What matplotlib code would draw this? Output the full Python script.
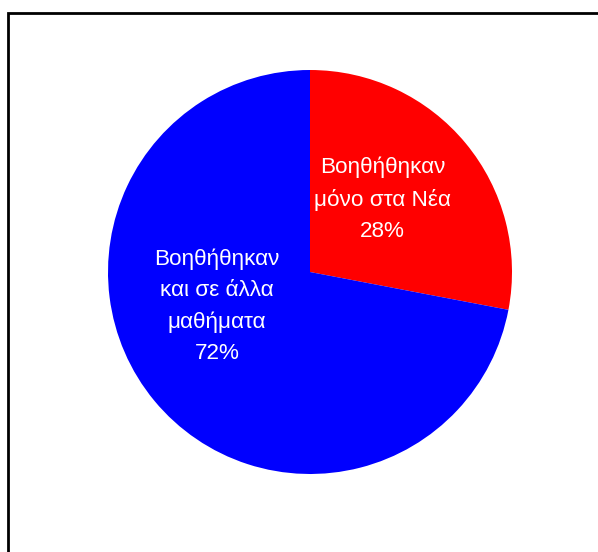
import matplotlib
matplotlib.use("Agg")
import matplotlib.pyplot as plt
from matplotlib.patches import Rectangle

labels = ["Βοηθήθηκαν\nμόνο στα Νέα", "Βοηθήθηκαν\nκαι σε άλλα\nμαθήματα"]
values = [28, 72]
colors = ["#ff0000", "#0000ff"]
label_pos = [(0.36, 0.36), (-0.46, -0.17)]

plt.rcParams['font.family'] = ['Liberation Sans', 'DejaVu Sans']

fig = plt.figure(figsize=(5.98, 5.52), dpi=100)
fig.patch.set_facecolor("white")

# outer frame (runs off the right and bottom edges)
fig.add_artist(Rectangle((8 / 598, -0.1), 1.2, 1 - 13 / 552 + 0.1,
                         transform=fig.transFigure, fill=False,
                         edgecolor="black", linewidth=2))

ax = fig.add_axes([57.5 / 598, 27.5 / 552, 505 / 598, 505 / 552])
ax.pie(values, colors=colors, startangle=90, counterclock=False,
       wedgeprops=dict(linewidth=0))
ax.set_xlim(-1.25, 1.25)
ax.set_ylim(-1.25, 1.25)
ax.set_aspect("equal")

for lab, v, (x, y) in zip(labels, values, label_pos):
    ax.text(x, y, f"{lab}\n{v}%", ha="center", va="center", color="white",
            fontsize=16.2, linespacing=1.62)

fig.savefig("out.png", dpi=100)
